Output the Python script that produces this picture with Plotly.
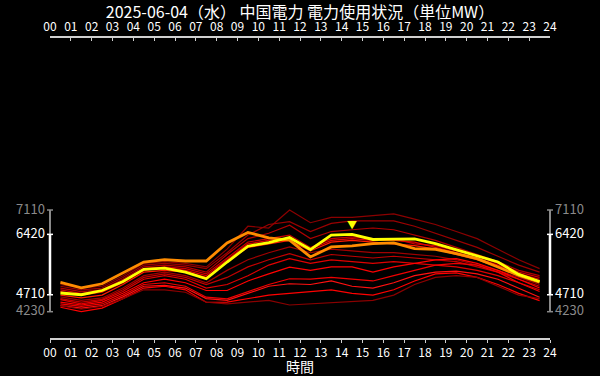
import plotly.graph_objects as go

title_text = "2025-06-04（水） 中国電力 電力使用状況（単位MW）"
x_title = "時間"
hours = [h + 0.5 for h in range(24)]
tick_hours = list(range(25))
tick_labels = [f"{h:02d}" for h in tick_hours]

today = [4760, 4710, 4830, 5086, 5430, 5466, 5352, 5163, 5637, 6084, 6189, 6332,
         5990, 6397, 6420, 6275, 6284, 6293, 6160, 5990, 5827, 5637, 5286, 5086]
yesterday = [5058, 4907, 5021, 5324, 5637, 5705, 5665, 5665, 6178, 6474, 6320, 6255,
             5780, 6064, 6093, 6160, 6178, 6017, 5998, 5876, 5733, 5494, 5258, 5067]

past_days = [
    [5000, 4900, 4950, 5250, 5600, 5650, 5600, 5500, 6000, 6650, 6600, 7110, 6750, 6900, 6900, 6950, 7000, 6850, 6700, 6500, 6300, 6000, 5700, 5450],
    [4950, 4850, 4900, 5200, 5550, 5600, 5550, 5450, 5900, 6400, 6700, 6780, 6500, 6730, 6800, 6800, 6800, 6650, 6450, 6250, 6050, 5800, 5550, 5350],
    [4900, 4800, 4850, 5150, 5500, 5550, 5500, 5350, 5850, 6300, 6450, 6680, 6300, 6500, 6550, 6600, 6550, 6400, 6250, 6050, 5850, 5650, 5400, 5250],
    [4850, 4750, 4800, 5100, 5450, 5500, 5450, 5300, 5750, 6200, 6300, 6400, 6050, 6300, 6350, 6300, 6300, 6150, 6100, 5950, 5800, 5600, 5350, 5200],
    [4800, 4700, 4780, 5050, 5400, 5480, 5400, 5250, 5700, 6150, 6250, 6300, 6000, 6250, 6300, 6250, 6250, 6200, 6050, 5900, 5750, 5550, 5300, 5150],
    [4700, 4620, 4700, 5000, 5350, 5400, 5350, 5200, 5650, 6050, 6150, 6250, 5950, 6200, 6250, 6200, 6150, 6100, 6000, 5850, 5700, 5500, 5250, 5100],
    [4650, 4550, 4620, 4900, 5250, 5350, 5250, 5050, 5400, 5700, 5900, 6064, 5900, 6000, 5950, 5900, 5900, 5850, 5800, 5700, 5550, 5400, 5200, 5000],
    [4600, 4500, 4580, 4850, 5200, 5300, 5200, 5000, 5200, 5500, 5700, 5876, 5700, 5850, 5800, 5750, 5800, 5750, 5700, 5650, 5500, 5350, 5150, 4950],
    [4570, 4450, 4550, 4800, 5150, 5250, 5150, 4900, 5000, 5250, 5550, 5733, 5600, 5700, 5650, 5600, 5650, 5600, 5550, 5500, 5400, 5250, 5050, 4850],
    [4500, 4420, 4500, 4750, 5050, 5150, 5050, 4830, 4830, 5100, 5300, 5494, 5400, 5500, 5500, 5350, 5500, 5600, 5700, 5733, 5600, 5400, 5150, 4900],
    [4450, 4380, 4450, 4700, 5000, 5050, 4950, 4641, 4593, 4800, 5000, 5163, 5150, 5200, 5150, 5100, 5250, 5400, 5550, 5600, 5550, 5350, 5050, 4800],
    [4403, 4330, 4400, 4650, 4950, 4974, 4900, 4600, 4550, 4750, 4950, 5021, 5000, 5100, 4950, 4900, 5050, 5250, 5350, 5380, 5300, 5150, 4900, 4640],
    [4355, 4230, 4330, 4600, 4900, 4950, 4850, 4498, 4500, 4600, 4700, 4750, 4800, 4850, 4750, 4700, 4850, 5100, 5300, 5330, 5200, 5000, 4750, 4545],
    [4403, 4300, 4380, 4600, 4850, 4850, 4780, 4498, 4450, 4500, 4550, 4420, 4450, 4500, 4520, 4550, 4700, 5000, 5200, 5250, 5200, 4950, 4700, 4600],
]
past_colors = ["#8b0000", "#9a0000", "#b00000", "#c80000", "#e00000", "#ff1a00",
               "#a00000", "#c00000", "#e00000", "#ff0000", "#f00000", "#ff1010",
               "#ff0000", "#8b0000"]

all_vals = today + yesterday + [v for d in past_days for v in d]
ymax_all, ymin_all = max(all_vals), min(all_vals)
tmax, tmin = max(today), min(today)
peak_hour = hours[today.index(tmax)]

FONT = "Noto Sans CJK JP"
fig = go.Figure()
for vals, col in zip(past_days, past_colors):
    fig.add_trace(go.Scatter(x=hours, y=vals, mode="lines",
                             line=dict(color=col, width=1.2),
                             hoverinfo="skip", showlegend=False))
fig.add_trace(go.Scatter(x=hours, y=yesterday, mode="lines",
                         line=dict(color="#ff8c00", width=2.8), showlegend=False))
fig.add_trace(go.Scatter(x=hours, y=today, mode="lines",
                         line=dict(color="#ffff00", width=2.8), showlegend=False))
fig.add_trace(go.Scatter(x=[0, 24], y=[tmin, tmin], xaxis="x2", mode="lines",
                         line=dict(width=0), hoverinfo="skip", showlegend=False))

axis_common = dict(range=[0, 24], tickvals=tick_hours, ticktext=tick_labels,
                   showgrid=False, zeroline=False, showline=True, automargin=False,
                   linecolor="#d0d0d0", linewidth=2,
                   ticklen=3, tickcolor="#d0d0d0", tickwidth=1,
                   tickfont=dict(family=FONT, size=12, color="#ffffff"))

fig.update_layout(
    width=600, height=376, paper_bgcolor="#000000", plot_bgcolor="#000000",
    margin=dict(l=50, r=50, t=38, b=38),
    title=dict(text=title_text, x=0.5, xanchor="center", y=0.966, yanchor="middle",
               font=dict(family=FONT, size=16, color="#ffffff")),
    xaxis=dict(**axis_common, side="bottom", ticks="outside"),
    xaxis2=dict(**axis_common, side="top", ticks="inside",
                overlaying="x", anchor="y"),
    yaxis=dict(range=[3485, 11981], visible=False),
)

fig.add_annotation(xref="paper", yref="paper", x=0.5, y=0, yshift=-28,
                   text=x_title, showarrow=False, yanchor="middle",
                   font=dict(family=FONT, size=14, color="#ffffff"))

# y brackets and labels
px = 1 / 500
for side, xp in (("left", 0.0), ("right", 1.0)):
    fig.add_shape(type="line", xref="paper", yref="y", x0=xp, x1=xp,
                  y0=ymin_all, y1=ymax_all, line=dict(color="#8a8a8a", width=2))
    for yv in (ymin_all, ymax_all):
        fig.add_shape(type="line", xref="paper", yref="y", x0=xp - 3 * px, x1=xp + 3 * px,
                      y0=yv, y1=yv, line=dict(color="#8a8a8a", width=1.5))
    fig.add_shape(type="line", xref="paper", yref="y", x0=xp, x1=xp,
                  y0=tmin, y1=tmax, line=dict(color="#ffffff", width=2.5))
    for yv in (tmin, tmax):
        fig.add_shape(type="line", xref="paper", yref="y", x0=xp - 3 * px, x1=xp + 3 * px,
                      y0=yv, y1=yv, line=dict(color="#ffffff", width=1.5))
    for yv, col in ((ymax_all, "#8a8a8a"), (tmax, "#ffffff"),
                    (tmin, "#ffffff"), (ymin_all, "#8a8a8a")):
        fig.add_annotation(xref="paper", yref="y", x=xp, y=yv, text=str(yv),
                           showarrow=False, yshift=2,
                           xanchor="right" if side == "left" else "left",
                           xshift=-3 if side == "left" else 3,
                           font=dict(family=FONT, size=13, color=col))

fig.add_annotation(x=peak_hour, y=tmax, text="▼", showarrow=False, yshift=10,
                   font=dict(family=FONT, size=10, color="#ffff00"))

fig.write_html("out.html", config={"displayModeBar": False},
               post_script="document.body.style.margin='0px';")
